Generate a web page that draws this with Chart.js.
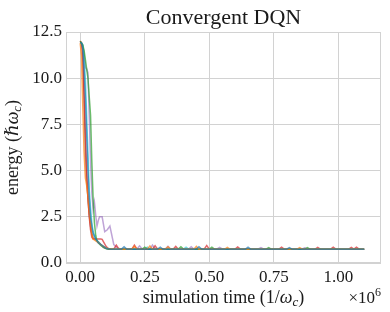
<!DOCTYPE html>
<html>
<head>
<meta charset="utf-8">
<script src="https://cdn.jsdelivr.net/npm/chart.js@4.4.0/dist/chart.umd.min.js"></script>
<style>
html, body { margin: 0; padding: 0; background: #fff; }
canvas { display: block; }
</style>
</head>
<body>
<canvas id="chart" width="390" height="312"></canvas>
<script>
// Simulation time is in units of 1e6 / omega_c, energy in hbar * omega_c.
const BLUE_X = [0, .005, .01, .015, .02, .025, .03, .035, .04, .045, .05, .06, .07, .08, .09, .10, .12, .16, .17, .18, .30, .31, .32, .45, .46, .47, .64, .65, .66, .80, .81, .82, 1.10];
const BLUE_Y = [11.9, 11.9, 11.6, 10.5, 9.0, 7.0, 5.0, 3.5, 2.5, 2.0, 1.6, 1.3, 1.1, 1.0, 0.9, 0.8, 0.75, 0.75, 0.88, 0.75, 0.75, 0.86, 0.75, 0.75, 0.88, 0.75, 0.75, 0.85, 0.75, 0.75, 0.83, 0.75, 0.74];

const ORANGE_X = [0, .005, .01, .015, .02, .025, .03, .035, .04, .045, .05, .06, .07, .08, .09, .10, .11, .13, .20, .21, .22, .26, .27, .28, .33, .34, .35, .44, .45, .46, .56, .57, .58, .84, .85, .86, 1.10];
const ORANGE_Y = [11.9, 11.2, 8.5, 6.0, 4.6, 4.2, 3.6, 2.8, 2.2, 1.6, 1.3, 1.2, 1.1, 1.0, 0.9, 0.82, 0.78, 0.75, 0.75, 0.9, 0.75, 0.75, 0.92, 0.75, 0.75, 0.88, 0.75, 0.75, 0.9, 0.75, 0.75, 0.84, 0.75, 0.75, 0.83, 0.75, 0.74];

const GREEN_X = [0, .005, .01, .015, .02, .025, .03, .035, .04, .045, .05, .055, .06, .065, .07, .08, .09, .10, .11, .24, .25, .26, .38, .39, .40, .50, .51, .52, .72, .73, .74, .87, .88, .89, 1.10];
const GREEN_Y = [12.0, 11.9, 11.8, 11.5, 11.0, 10.5, 10.0, 9.0, 8.0, 5.5, 3.5, 2.2, 1.5, 1.2, 1.1, 0.95, 0.85, 0.78, 0.75, 0.75, 0.86, 0.75, 0.75, 0.88, 0.75, 0.75, 0.85, 0.75, 0.75, 0.83, 0.75, 0.75, 0.83, 0.75, 0.74];

const RED_X = [0, .005, .01, .015, .02, .025, .03, .035, .04, .045, .05, .06, .07, .08, .085, .10, .11, .13, .14, .15, .20, .21, .22, .28, .29, .30, .36, .37, .38, .48, .49, .50, .60, .61, .62, .77, .78, .79, .91, .92, .93, .97, .98, .99, 1.04, 1.05, 1.06, 1.07, 1.08, 1.10];
const RED_Y = [12.0, 11.9, 11.0, 9.0, 7.0, 5.0, 3.5, 2.5, 1.8, 1.4, 1.3, 1.3, 1.3, 1.3, 1.28, 0.9, 0.76, 0.75, 0.97, 0.75, 0.75, 0.97, 0.75, 0.75, 0.93, 0.75, 0.75, 0.9, 0.75, 0.75, 0.95, 0.75, 0.75, 0.87, 0.75, 0.75, 0.86, 0.75, 0.75, 0.84, 0.75, 0.75, 0.85, 0.75, 0.75, 0.84, 0.75, 0.85, 0.75, 0.74];

const PURPLE_X = [0, .005, .01, .015, .02, .025, .03, .035, .04, .045, .05, .055, .06, .065, .07, .075, .085, .095, .105, .115, .13, .145, .16, .22, .23, .24, .27, .28, .29, .33, .34, .35, .42, .43, .44, .53, .54, .55, .69, .70, .71, .86, .87, .88, 1.10];
const PURPLE_Y = [11.9, 11.9, 11.8, 11.3, 10.6, 10.5, 10.3, 8.0, 5.5, 3.8, 2.9, 3.3, 2.6, 2.0, 2.3, 2.5, 2.5, 1.7, 1.8, 2.0, 1.0, 0.8, 0.76, 0.76, 0.93, 0.76, 0.76, 0.97, 0.76, 0.76, 0.9, 0.76, 0.76, 0.88, 0.76, 0.76, 0.85, 0.76, 0.76, 0.83, 0.76, 0.76, 0.82, 0.76, 0.75];

const BROWN_X = [0, .005, .01, .015, .02, .025, .03, .035, .04, .045, .05, .06, .07, .08, .09, .10, .11, .12, 1.10];
const BROWN_Y = [12.0, 11.9, 11.5, 9.0, 6.0, 4.5, 3.5, 2.6, 2.0, 1.6, 1.35, 1.25, 1.15, 1.0, 0.85, 0.78, 0.76, 0.75, 0.74];

const CYAN_X = [0, .005, .01, .015, .02, .025, .03, .035, .04, .045, .05, .06, .07, .08, .09, .10, .12, .25, .26, .27, .40, .41, .42, 1.10];
const CYAN_Y = [11.9, 11.9, 11.8, 11.2, 10.0, 8.0, 6.0, 4.0, 3.0, 2.2, 1.7, 1.3, 1.15, 1.0, 0.9, 0.8, 0.75, 0.75, 0.86, 0.75, 0.75, 0.85, 0.75, 0.74];

const X_TICKS = [0, 0.25, 0.5, 0.75, 1.0];
const Y_TICKS = [0, 2.5, 5, 7.5, 10, 12.5];

const FONT = '"Liberation Serif", "DejaVu Serif", serif';
const GRID_COLOR = '#d2d2d2';
const TEXT_COLOR = '#1a1a1a';

function toPoints(xs, ys) {
    return xs.map((x, i) => ({x: x, y: ys[i]}));
}

function series(xs, ys, color) {
    return {
        data: toPoints(xs, ys),
        borderColor: color,
        borderWidth: 1.5,
        pointRadius: 0,
        fill: false,
    };
}

// Draws a run of text pieces (for subscripts and italics) as one line.
function drawRich(ctx, parts, x, y, align) {
    let total = 0;
    parts.forEach(p => {
        ctx.font = p.font;
        p.w = ctx.measureText(p.text).width;
        total += p.w;
    });
    let cx = x;
    if (align === 'center') cx = x - total / 2;
    if (align === 'right') cx = x - total;
    parts.forEach(p => {
        ctx.font = p.font;
        ctx.fillText(p.text, cx, y + (p.dy || 0));
        cx += p.w;
    });
}

const decorations = {
    id: 'decorations',
    beforeDatasetsDraw(chart) {
        const ctx = chart.ctx;
        const a = chart.chartArea;
        ctx.save();
        ctx.strokeStyle = GRID_COLOR;
        ctx.lineWidth = 1;
        ctx.strokeRect(Math.round(a.left) + 0.5, Math.round(a.top) + 0.5,
            Math.round(a.right - a.left) - 1, Math.round(a.bottom - a.top) - 1);
        ctx.restore();
    },
    afterDraw(chart) {
        const ctx = chart.ctx;
        const a = chart.chartArea;
        const mid = (a.left + a.right) / 2;
        ctx.save();
        ctx.fillStyle = TEXT_COLOR;
        ctx.textBaseline = 'alphabetic';

        ctx.font = '22px ' + FONT;
        ctx.textAlign = 'center';
        ctx.fillText('Convergent DQN', mid, 24);
        ctx.textAlign = 'left';

        const up = '18px ' + FONT;
        const it = 'italic 18px ' + FONT;
        const sub = 'italic 13px ' + FONT;

        drawRich(ctx, [
            {text: 'simulation time (1/', font: up},
            {text: 'ω', font: it},
            {text: 'c', font: sub, dy: 3},
            {text: ')', font: up},
        ], mid, 303, 'center');

        drawRich(ctx, [
            {text: '×10', font: '17px ' + FONT},
            {text: '6', font: '12px ' + FONT, dy: -7},
        ], a.right, 303, 'right');

        ctx.translate(18, (a.top + a.bottom) / 2);
        ctx.rotate(-Math.PI / 2);
        drawRich(ctx, [
            {text: 'energy (', font: up},
            {text: 'ℏω', font: it},
            {text: 'c', font: sub, dy: 3},
            {text: ')', font: up},
        ], 0, 0, 'center');
        ctx.restore();
    },
};

new Chart(document.getElementById('chart'), {
    type: 'line',
    data: {
        datasets: [
            series(BLUE_X, BLUE_Y, 'rgba(31, 119, 180, 0.7)'),
            series(ORANGE_X, ORANGE_Y, 'rgba(255, 127, 14, 0.7)'),
            series(GREEN_X, GREEN_Y, 'rgba(44, 160, 44, 0.7)'),
            series(CYAN_X, CYAN_Y, 'rgba(23, 190, 207, 0.6)'),
            series(RED_X, RED_Y, 'rgba(214, 39, 40, 0.7)'),
            series(PURPLE_X, PURPLE_Y, 'rgba(148, 103, 189, 0.6)'),
            series(BROWN_X, BROWN_Y, 'rgba(140, 86, 75, 0.7)'),
        ],
    },
    options: {
        responsive: false,
        animation: false,
        devicePixelRatio: 1,
        layout: {
            padding: {left: 0, top: 32, right: 9, bottom: 0},
        },
        plugins: {
            legend: {display: false},
            tooltip: {enabled: false},
        },
        scales: {
            x: {
                type: 'linear',
                min: -0.055,
                max: 1.165,
                afterBuildTicks: scale => { scale.ticks = X_TICKS.map(v => ({value: v})); },
                afterFit: scale => { scale.height = 49; },
                grid: {color: GRID_COLOR, lineWidth: 1, drawTicks: false},
                border: {display: false},
                ticks: {
                    padding: 4,
                    color: TEXT_COLOR,
                    font: {family: FONT, size: 17},
                    maxRotation: 0,
                    callback: v => v.toFixed(2),
                },
            },
            y: {
                min: 0,
                max: 12.5,
                afterBuildTicks: scale => { scale.ticks = Y_TICKS.map(v => ({value: v})); },
                afterFit: scale => { scale.width = 66; },
                grid: {color: GRID_COLOR, lineWidth: 1, drawTicks: false},
                border: {display: false},
                ticks: {
                    padding: 4,
                    color: TEXT_COLOR,
                    font: {family: FONT, size: 17},
                    callback: v => v.toFixed(1),
                },
            },
        },
    },
    plugins: [decorations],
});
</script>
</body>
</html>
